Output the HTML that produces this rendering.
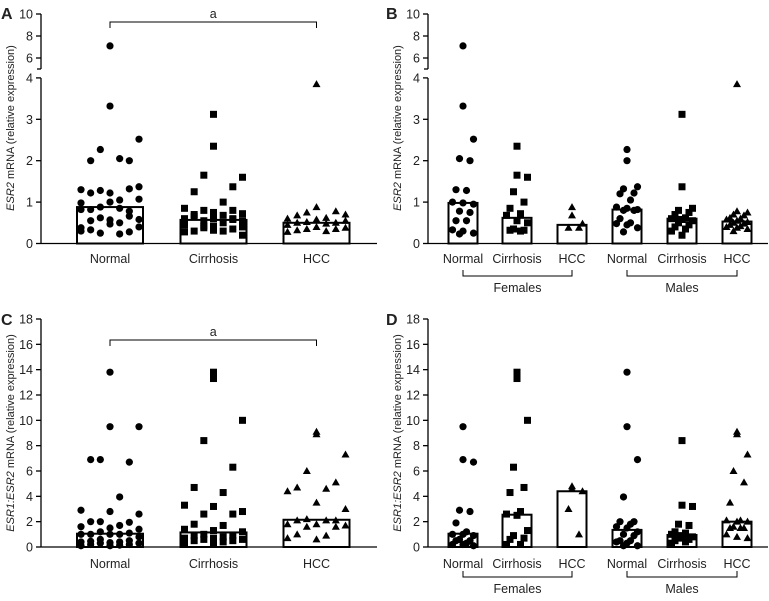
<!DOCTYPE html>
<html><head><meta charset="utf-8">
<style>
body{margin:0;background:#fff;}
svg{display:block;font-family:"Liberation Sans","DejaVu Sans",sans-serif;}
text{fill:#222;}
</style></head>
<body>
<svg id="fig" width="769" height="601" viewBox="0 0 769 601" xmlns="http://www.w3.org/2000/svg"></svg>
<script>
// ---- data ----
const groupsAC = ["Normal","Cirrhosis","HCC"];
const groupsBD = ["Normal","Cirrhosis","HCC","Normal","Cirrhosis","HCC"];
const sexLabels = ["Females","Males"];
const ticksAupper = [6,8,10];
const ticksAlower = [0,1,2,3,4];
const ticksC = [0,2,4,6,8,10,12,14,16,18];

const aNormal = [7.1,3.32,2.52,2.27,2.0,2.0,2.05,1.3,1.22,1.37,1.28,1.32,1.22,1.05,0.98,1.0,1.07,0.88,0.78,0.82,0.85,0.82,0.57,0.58,0.62,0.66,0.55,0.5,0.38,0.47,0.4,0.25,0.28,0.33,0.23,0.3];
const aCirr = [3.12,2.35,1.6,1.65,1.37,1.25,1.0,0.85,0.75,0.72,0.8,0.8,0.7,0.68,0.6,0.6,0.55,0.55,0.6,0.65,0.5,0.45,0.42,0.4,0.38,0.35,0.3,0.3,0.28,0.32,0.2,0.42,0.58];
const aHCC = [3.85,0.88,0.7,0.75,0.78,0.68,0.62,0.6,0.58,0.55,0.52,0.5,0.5,0.48,0.45,0.4,0.38,0.35,0.35,0.32,0.3,0.28];
const aBars = [0.88,0.57,0.5];

const bFNormal = [7.1,3.32,2.52,2.05,2.0,1.3,1.28,1.0,0.98,0.95,0.78,0.75,0.55,0.55,0.33,0.3,0.25,0.23];
const bFCirr = [2.35,1.65,1.6,1.25,1.0,0.85,0.72,0.68,0.55,0.5,0.35,0.32,0.32,0.3];
const bFHCC = [0.88,0.68,0.48,0.38,0.38];
const bMNormal = [2.27,2.0,1.37,1.32,1.22,1.2,1.05,0.88,0.85,0.82,0.8,0.8,0.6,0.5,0.48,0.45,0.38,0.28];
const bMCirr = [3.12,1.37,0.85,0.8,0.75,0.7,0.62,0.6,0.58,0.55,0.5,0.45,0.4,0.35,0.3,0.2];
const bMHCC = [3.85,0.78,0.75,0.7,0.68,0.62,0.6,0.58,0.55,0.52,0.5,0.48,0.45,0.42,0.4,0.38,0.35,0.3];
const bBars = [0.98,0.62,0.45,0.82,0.6,0.53];

const cNormal = [13.8,9.5,9.5,6.9,6.7,6.9,3.95,2.9,2.8,2.6,2.0,1.95,2.0,1.7,1.6,1.5,1.4,1.2,1.1,1.0,1.0,1.0,1.0,0.8,0.6,0.5,0.45,0.4,0.4,0.35,0.3,0.3,0.2,0.2,0.15,0.1,0.1];
const cCirr = [13.8,13.3,10.0,8.4,6.3,4.7,4.3,3.3,3.2,2.8,2.6,2.6,1.8,1.7,1.4,1.3,1.2,1.0,0.9,0.9,0.8,0.7,0.7,0.6,0.6,0.5,0.5,0.4,0.3,0.2];
const cHCC = [9.1,8.9,7.3,6.0,5.1,4.7,4.6,4.4,3.5,3.0,2.2,2.1,2.1,2.1,1.8,1.8,1.7,1.6,1.6,1.0,0.9,0.7,0.6];
const cBars = [1.05,1.15,2.15];

const dFNormal = [9.5,6.9,6.7,2.9,2.8,1.9,1.2,1.0,1.0,0.9,0.6,0.5,0.5,0.3,0.2,0.2,0.1];
const dFCirr = [13.8,13.3,10.0,6.3,4.7,4.3,2.8,2.6,2.5,1.3,0.9,0.7,0.6,0.2,0.2];
const dFHCC = [4.8,4.6,4.4,3.0,1.0];
const dMNormal = [13.8,9.5,6.9,3.95,2.0,2.0,1.8,1.6,1.5,1.2,1.0,0.9,0.5,0.5,0.4,0.3,0.1,0.1];
const dMCirr = [8.4,3.3,3.2,1.8,1.7,1.2,1.1,1.0,0.9,0.8,0.7,0.6,0.5,0.4,0.3];
const dMHCC = [9.1,8.9,7.3,6.0,5.1,3.5,2.1,2.1,2.0,2.0,1.6,1.5,1.5,1.5,1.0,0.8,0.7];
const dBars = [1.05,2.55,4.4,1.35,0.95,2.0];

// ---- helpers ----
const NS="http://www.w3.org/2000/svg";
const svg=document.getElementById('fig');
function mk(tag,attrs,parent){const e=document.createElementNS(NS,tag);for(const k in attrs)e.setAttribute(k,attrs[k]);(parent||svg).appendChild(e);return e;}
function txt(x,y,s,attrs,parent){const t=mk('text',Object.assign({x:x,y:y,'font-size':12},attrs||{}),parent);t.textContent=s;return t;}

const yAB = v => v<=4.2 ? 243.5-41.4*v : 58-(v-6)*11;
const yCD0 = 547, yCD = v => 547-12.667*v;

function marker(g,shape,cx,cy){
  let m;
  if(shape==='circle') m=mk('circle',{cx:cx,cy:cy,r:3.6,fill:'#000'},g);
  else if(shape==='square') m=mk('rect',{x:cx-3.5,y:cy-3.5,width:7,height:7,fill:'#000'},g);
  else m=mk('polygon',{points:`${cx},${cy-4} ${cx+4},${cy+3} ${cx-4},${cy+3}`,fill:'#000'},g);
  
  
}

function drawGroup(panel,vals,bar,cx,half,shape,yf,base){
  const g=mk('g',{},panel);
  
  
  const r=mk('rect',{x:cx-half,y:yf(bar),width:half*2,height:base-yf(bar),fill:'#fff',stroke:'#000','stroke-width':2},g);
  
  
  vals.forEach((v,i)=>{
    const off = i===0 ? 0 : ((((i*3)%7)-3)/3)*(half-4);
    marker(g,shape,cx+off,yf(v));
  });
}

function yTitle(panel,x,y,italic){
  const t=mk('text',{transform:`translate(${x},${y}) rotate(-90)`,'text-anchor':'middle','font-size':11},panel);
  
  
  const a=mk('tspan',{'font-style':'italic'},t);a.textContent=italic;
  const b=mk('tspan',{},t);b.textContent=' mRNA (relative expression)';
}

function brokenAxis(panel,ax,right){
  mk('line',{x1:ax,y1:14,x2:ax,y2:69,stroke:'#000','stroke-width':1.3},panel);
  mk('line',{x1:ax-4,y1:69,x2:ax,y2:69,stroke:'#000','stroke-width':1.3},panel);
  mk('line',{x1:ax,y1:78,x2:ax,y2:243.5,stroke:'#000','stroke-width':1.3},panel);
  mk('line',{x1:ax,y1:243.5,x2:right,y2:243.5,stroke:'#000','stroke-width':1.3},panel);
  ticksAupper.forEach(v=>{mk('line',{x1:ax-5,y1:yAB(v),x2:ax,y2:yAB(v),stroke:'#000','stroke-width':1.3},panel);
    txt(ax-8,yAB(v)+4.5,String(v),{'text-anchor':'end','font-size':12.5},panel);});
  ticksAlower.forEach(v=>{mk('line',{x1:ax-5,y1:yAB(v),x2:ax,y2:yAB(v),stroke:'#000','stroke-width':1.3},panel);
    txt(ax-8,yAB(v)+4.5,String(v),{'text-anchor':'end','font-size':12.5},panel);});
}
function linearAxis(panel,ax,right){
  mk('line',{x1:ax,y1:yCD(18),x2:ax,y2:yCD0,stroke:'#000','stroke-width':1.3},panel);
  mk('line',{x1:ax,y1:yCD0,x2:right,y2:yCD0,stroke:'#000','stroke-width':1.3},panel);
  ticksC.forEach(v=>{mk('line',{x1:ax-5,y1:yCD(v),x2:ax,y2:yCD(v),stroke:'#000','stroke-width':1.3},panel);
    txt(ax-8,yCD(v)+4.5,String(v),{'text-anchor':'end','font-size':12.5},panel);});
}
function panelLetter(panel,x,y,s){const t=txt(x,y,s,{'font-weight':'bold','font-size':16,fill:'#000'},panel);}
function sigBracket(panel,x1,x2,y){
  mk('path',{d:`M${x1},${y+6}V${y}H${x2}V${y+6}`,fill:'none',stroke:'#000','stroke-width':1},panel);
  txt((x1+x2)/2,y-4,'a',{'text-anchor':'middle','font-size':12.5},panel);
}
function sexBrackets(panel,centers,y){
  [[0,2],[3,5]].forEach((p,i)=>{
    mk('path',{d:`M${centers[p[0]]},${y-6}V${y}H${centers[p[1]]}V${y-6}`,fill:'none',stroke:'#000','stroke-width':1},panel);
    const t=txt((centers[p[0]]+centers[p[1]])/2,y+16,sexLabels[i],{'text-anchor':'middle','font-size':12.5},panel);
    
  });
}
function mkPanel(name){const g=mk('g',{});return g;}

const shapes=['circle','square','triangle'];
const centersAC=[110,213.5,316.5];
const centersBD=[463,517,572,627,682,737];

const pA=mkPanel('panel-a');
panelLetter(pA,1,19,'A');
brokenAxis(pA,41,377);
yTitle(pA,14,128,'ESR2');
[aNormal,aCirr,aHCC].forEach((d,i)=>drawGroup(pA,d,aBars[i],centersAC[i],33,shapes[i],yAB,243.5));
groupsAC.forEach((s,i)=>txt(centersAC[i],263,s,{'text-anchor':'middle','font-size':12.5},pA));
sigBracket(pA,centersAC[0],centersAC[2],22);

const pB=mkPanel('panel-b');
panelLetter(pB,386,19,'B');
brokenAxis(pB,428,768);
yTitle(pB,401,128,'ESR2');
[bFNormal,bFCirr,bFHCC,bMNormal,bMCirr,bMHCC].forEach((d,i)=>drawGroup(pB,d,bBars[i],centersBD[i],14.5,shapes[i%3],yAB,243.5));
groupsBD.forEach((s,i)=>txt(centersBD[i],263,s,{'text-anchor':'middle','font-size':12.5},pB));
sexBrackets(pB,centersBD,276);

const pC=mkPanel('panel-c');
panelLetter(pC,1,325,'C');
linearAxis(pC,41,377);
yTitle(pC,14,433,'ESR1:ESR2');
[cNormal,cCirr,cHCC].forEach((d,i)=>drawGroup(pC,d,cBars[i],centersAC[i],33,shapes[i],yCD,yCD0));
groupsAC.forEach((s,i)=>txt(centersAC[i],568,s,{'text-anchor':'middle','font-size':12.5},pC));
sigBracket(pC,centersAC[0],centersAC[2],340);

const pD=mkPanel('panel-d');
panelLetter(pD,386,325,'D');
linearAxis(pD,428,768);
yTitle(pD,401,433,'ESR1:ESR2');
[dFNormal,dFCirr,dFHCC,dMNormal,dMCirr,dMHCC].forEach((d,i)=>drawGroup(pD,d,dBars[i],centersBD[i],14.5,shapes[i%3],yCD,yCD0));
groupsBD.forEach((s,i)=>txt(centersBD[i],568,s,{'text-anchor':'middle','font-size':12.5},pD));
sexBrackets(pD,centersBD,577);
</script>
</body></html>
